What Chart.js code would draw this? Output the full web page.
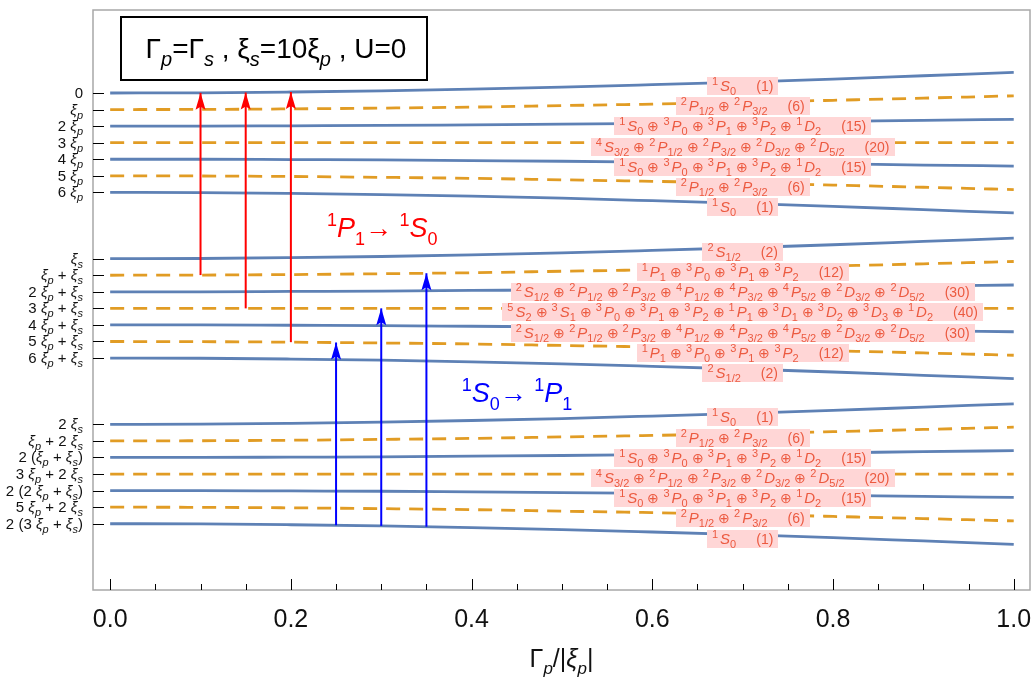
<!DOCTYPE html>
<html>
<head>
<meta charset="utf-8">
<script src="https://cdn.jsdelivr.net/npm/chart.js@4.4.0/dist/chart.umd.min.js"></script>
<style>
  html, body { margin: 0; padding: 0; background: #fff; }
  #wrap { width: 1032px; height: 686px; }
</style>
</head>
<body>
<div id="wrap"><canvas id="levelChart" width="1032" height="686"></canvas></div>
<script>
const gammaPts = [0, 0.1, 0.2, 0.3, 0.4, 0.5, 0.6, 0.7, 0.8, 0.9, 1.0];

// level energies in units of ξp (axis runs downward)
const levelsP = [
  [0, -0.01, -0.06, -0.13, -0.23, -0.35, -0.50, -0.66, -0.84, -1.04, -1.24],
  [1, 0.99, 0.96, 0.91, 0.85, 0.76, 0.67, 0.56, 0.44, 0.31, 0.17],
  [2, 2.00, 1.98, 1.96, 1.92, 1.88, 1.83, 1.78, 1.72, 1.65, 1.59],
  [3, 3, 3, 3, 3, 3, 3, 3, 3, 3, 3],
  [4, 4.00, 4.02, 4.04, 4.08, 4.12, 4.17, 4.22, 4.28, 4.35, 4.41],
  [5, 5.01, 5.04, 5.09, 5.15, 5.24, 5.33, 5.44, 5.56, 5.69, 5.83],
  [6, 6.01, 6.06, 6.13, 6.23, 6.35, 6.50, 6.66, 6.84, 7.04, 7.24]
];
const levelsS = [
  [10, 9.99, 9.94, 9.87, 9.77, 9.65, 9.50, 9.34, 9.16, 8.96, 8.76],
  [11, 10.99, 10.96, 10.91, 10.85, 10.76, 10.67, 10.56, 10.44, 10.31, 10.17],
  [12, 12.00, 11.98, 11.96, 11.92, 11.88, 11.83, 11.78, 11.72, 11.65, 11.59],
  [13, 13, 13, 13, 13, 13, 13, 13, 13, 13, 13],
  [14, 14.00, 14.02, 14.04, 14.08, 14.12, 14.17, 14.22, 14.28, 14.35, 14.41],
  [15, 15.01, 15.04, 15.09, 15.15, 15.24, 15.33, 15.44, 15.56, 15.69, 15.83],
  [16, 16.01, 16.06, 16.13, 16.23, 16.35, 16.50, 16.66, 16.84, 17.04, 17.24]
];
const levels2S = [
  [20, 19.99, 19.94, 19.87, 19.77, 19.65, 19.50, 19.34, 19.16, 18.96, 18.76],
  [21, 20.99, 20.96, 20.91, 20.85, 20.76, 20.67, 20.56, 20.44, 20.31, 20.17],
  [22, 22.00, 21.98, 21.96, 21.92, 21.88, 21.83, 21.78, 21.72, 21.65, 21.59],
  [23, 23, 23, 23, 23, 23, 23, 23, 23, 23, 23],
  [24, 24.00, 24.02, 24.04, 24.08, 24.12, 24.17, 24.22, 24.28, 24.35, 24.41],
  [25, 25.01, 25.04, 25.09, 25.15, 25.24, 25.33, 25.44, 25.56, 25.69, 25.83],
  [26, 26.01, 26.06, 26.13, 26.23, 26.35, 26.50, 26.66, 26.84, 27.04, 27.24]
];

// y ticks (level at Γp = 0) and their labels, "_" = subscript
const yTickVals = [0, 1, 2, 3, 4, 5, 6, 10, 11, 12, 13, 14, 15, 16, 20, 21, 22, 23, 24, 25, 26];
const yTickLabels = [
  '0', 'ξ_p', '2 ξ_p', '3 ξ_p', '4 ξ_p', '5 ξ_p', '6 ξ_p',
  'ξ_s', 'ξ_p + ξ_s', '2 ξ_p + ξ_s', '3 ξ_p + ξ_s', '4 ξ_p + ξ_s', '5 ξ_p + ξ_s', '6 ξ_p + ξ_s',
  '2 ξ_s', 'ξ_p + 2 ξ_s', '2 (ξ_p + ξ_s)', '3 ξ_p + 2 ξ_s', '2 (2 ξ_p + ξ_s)', '5 ξ_p + 2 ξ_s', '2 (3 ξ_p + ξ_s)'
];
const xTickVals = [0, 0.2, 0.4, 0.6, 0.8, 1.0];
const xTickLabels = ['0.0', '0.2', '0.4', '0.6', '0.8', '1.0'];

// multiplets on each level (multiplicity, letter, J) and degeneracy
const termsP = [
  ['1S0'],
  ['2P1/2', '2P3/2'],
  ['1S0', '3P0', '3P1', '3P2', '1D2'],
  ['4S3/2', '2P1/2', '2P3/2', '2D3/2', '2D5/2'],
  ['1S0', '3P0', '3P1', '3P2', '1D2'],
  ['2P1/2', '2P3/2'],
  ['1S0']
];
const degP = [1, 6, 15, 20, 15, 6, 1];
const termsS = [
  ['2S1/2'],
  ['1P1', '3P0', '3P1', '3P2'],
  ['2S1/2', '2P1/2', '2P3/2', '4P1/2', '4P3/2', '4P5/2', '2D3/2', '2D5/2'],
  ['5S2', '3S1', '3P0', '3P1', '3P2', '1P1', '3D1', '3D2', '3D3', '1D2'],
  ['2S1/2', '2P1/2', '2P3/2', '4P1/2', '4P3/2', '4P5/2', '2D3/2', '2D5/2'],
  ['1P1', '3P0', '3P1', '3P2'],
  ['2S1/2']
];
const degS = [2, 12, 30, 40, 30, 12, 2];
const labelGamma = 0.7;

// transition arrows: x, level value at the tail, level value at the head
const redArrowX = [0.10, 0.15, 0.20];
const redArrowFrom = [10.99, 13.0, 15.04];
const redArrowTo = [-0.01, -0.03, -0.06];
const blueArrowX = [0.25, 0.30, 0.35];
const blueArrowFrom = [26.09, 26.13, 26.18];
const blueArrowTo = [15.06, 13.0, 10.88];

const BLUE = '#5e81b5';
const ORANGE = '#e19c24';
const FONT = "'Liberation Sans', Arial, sans-serif";

// ---- small rich text helper (sub/superscripts, italic letters) ----
function richRuns(str, size, scriptSize, italicMain) {
  const runs = [];
  let i = 0;
  while (i < str.length) {
    const ch = str[i];
    if (ch === '_' || ch === '^') {
      i++;
      let txt;
      if (str[i] === '{') {
        const j = str.indexOf('}', i);
        txt = str.slice(i + 1, j);
        i = j + 1;
      } else {
        txt = str[i];
        i++;
      }
      runs.push({ text: txt, size: scriptSize, italic: /[A-Za-z]/.test(txt), dy: ch === '_' ? size * 0.28 : -size * 0.42 });
      continue;
    }
    const letter = /[A-Za-zα-ωΑ-Ω]/.test(ch) && ch !== 'Γ';
    runs.push({ text: ch, size: size, italic: italicMain && letter, dy: 0 });
    i++;
  }
  return runs;
}

function runFont(r) {
  return (r.italic ? 'italic ' : '') + r.size + 'px ' + FONT;
}

function runsWidth(ctx, runs) {
  let w = 0;
  runs.forEach(r => {
    if (r.space) { w += r.space; return; }
    ctx.font = runFont(r);
    w += ctx.measureText(r.text).width;
  });
  return w;
}

function drawRuns(ctx, runs, x, y, align, color) {
  const w = runsWidth(ctx, runs);
  let cx = align === 'right' ? x - w : align === 'center' ? x - w / 2 : x;
  ctx.fillStyle = color;
  ctx.textBaseline = 'alphabetic';
  ctx.textAlign = 'left';
  runs.forEach(r => {
    if (r.space) { cx += r.space; return; }
    ctx.font = runFont(r);
    ctx.fillText(r.text, cx, y + r.dy);
    cx += ctx.measureText(r.text).width;
  });
  return w;
}

function termRuns(code) {
  return [
    { text: code[0], size: 11, italic: false, dy: -6 },
    { space: 2 },
    { text: code[1], size: 15, italic: true, dy: 0 },
    { text: code.slice(2), size: 11, italic: false, dy: 4 }
  ];
}

function multipletRuns(terms, deg) {
  let runs = [];
  terms.forEach((t, k) => {
    if (k > 0) runs.push({ space: 4 }, { text: '⊕', size: 14, italic: false, dy: 0 }, { space: 4 });
    runs = runs.concat(termRuns(t));
  });
  runs.push({ space: 20 }, { text: '(' + deg + ')', size: 14, italic: false, dy: 0 });
  return runs;
}

// ---- datasets ----
const allLevels = [...levelsP, ...levelsS, ...levels2S];
const levelDatasets = allLevels.map((vals, k) => {
  const solid = yTickVals[k] % 2 === 0;
  return {
    data: vals.map((v, i) => ({ x: gammaPts[i], y: v })),
    borderColor: solid ? BLUE : ORANGE,
    borderDash: solid ? [] : [14, 9],
    borderWidth: 2.8,
    pointRadius: 0,
    cubicInterpolationMode: 'monotone',
    order: 2
  };
});

function arrowDatasets(xs, from, to, color) {
  return xs.map((x, i) => ({
    data: [{ x: x, y: from[i] }, { x: x, y: to[i] }],
    borderColor: color,
    borderWidth: 2,
    pointRadius: 0,
    order: 1
  }));
}

const datasets = levelDatasets
  .concat(arrowDatasets(redArrowX, redArrowFrom, redArrowTo, '#ff0000'))
  .concat(arrowDatasets(blueArrowX, blueArrowFrom, blueArrowTo, '#0000ff'));

// ---- decorations ----
const decorPlugin = {
  id: 'decor',
  afterDatasetsDraw(chart) {
    const ctx = chart.ctx;
    const xs = chart.scales.x, ys = chart.scales.y;

    // arrowheads
    const heads = (arrX, arrTo, color) => {
      arrX.forEach((x, i) => {
        const px = xs.getPixelForValue(x), py = ys.getPixelForValue(arrTo[i]);
        ctx.fillStyle = color;
        ctx.beginPath();
        ctx.moveTo(px, py);
        ctx.lineTo(px - 5, py + 17);
        ctx.lineTo(px, py + 14);
        ctx.lineTo(px + 5, py + 17);
        ctx.closePath();
        ctx.fill();
      });
    };
    heads(redArrowX, redArrowTo, '#ff0000');
    heads(blueArrowX, blueArrowTo, '#0000ff');

    // multiplet labels
    const li = gammaPts.indexOf(labelGamma);
    const groups = [[levelsP, termsP, degP], [levelsS, termsS, degS], [levels2S, termsP, degP]];
    const cx = xs.getPixelForValue(labelGamma);
    groups.forEach(([lv, terms, deg]) => {
      lv.forEach((vals, k) => {
        const runs = multipletRuns(terms[k], deg[k]);
        const w = runsWidth(ctx, runs) + 10;
        const cy = ys.getPixelForValue(vals[li]) + 4;
        ctx.fillStyle = '#ffd6d6';
        ctx.fillRect(Math.round(cx - w / 2), Math.round(cy - 9), Math.round(w), 18);
        drawRuns(ctx, runs, cx, cy + 5, 'center', '#ec5a40');
      });
    });
  },
  afterDraw(chart) {
    const ctx = chart.ctx;
    const a = chart.chartArea;
    const xs = chart.scales.x, ys = chart.scales.y;
    ctx.save();

    // frame
    ctx.strokeStyle = '#a8a8a8';
    ctx.lineWidth = 1.5;
    ctx.strokeRect(a.left, a.top, a.right - a.left, a.bottom - a.top);

    // y ticks
    ctx.strokeStyle = '#000';
    ctx.lineWidth = 1;
    yTickVals.forEach((v, i) => {
      const py = Math.round(ys.getPixelForValue(v)) + 0.5;
      ctx.beginPath();
      ctx.moveTo(a.left, py);
      ctx.lineTo(a.left + 11, py);
      ctx.stroke();
      drawRuns(ctx, richRuns(yTickLabels[i], 15, 11, true), a.left - 10, py + 4, 'right', '#111');
    });

    // x ticks (major + minor)
    for (let k = 0; k <= 20; k++) {
      const v = k * 0.05;
      const px = Math.round(xs.getPixelForValue(v)) + 0.5;
      const len = k % 4 === 0 ? 11 : 6;
      ctx.beginPath();
      ctx.moveTo(px, a.bottom);
      ctx.lineTo(px, a.bottom - len);
      ctx.stroke();
    }
    ctx.font = '25px ' + FONT;
    ctx.fillStyle = '#111';
    ctx.textAlign = 'center';
    ctx.textBaseline = 'alphabetic';
    xTickVals.forEach((v, i) => {
      ctx.fillText(xTickLabels[i], xs.getPixelForValue(v), a.bottom + 37);
    });

    // axis title
    drawRuns(ctx, richRuns('Γ_p/|ξ_p|', 25, 17, true), (a.left + a.right) / 2, 667, 'center', '#111');

    // parameter box
    ctx.fillStyle = '#fff';
    ctx.fillRect(121, 17, 306, 63);
    ctx.strokeStyle = '#000';
    ctx.lineWidth = 2;
    ctx.strokeRect(121, 17, 306, 63);
    drawRuns(ctx, richRuns('Γ_p=Γ_s , ξ_s=10ξ_p , U=0', 28, 20, false), 276, 58, 'center', '#000');

    // transition names
    drawRuns(ctx, richRuns('^1P_1→ ^1S_0', 27, 18, true), xs.getPixelForValue(0.24), ys.getPixelForValue(8.69), 'left', '#ff0000');
    drawRuns(ctx, richRuns('^1S_0→ ^1P_1', 27, 18, true), xs.getPixelForValue(0.389), ys.getPixelForValue(18.65), 'left', '#0000ff');

    ctx.restore();
  }
};

new Chart(document.getElementById('levelChart').getContext('2d'), {
  type: 'line',
  data: { datasets: datasets },
  options: {
    responsive: false,
    animation: false,
    layout: { padding: { left: 93, right: 2, top: 10, bottom: 96 } },
    scales: {
      x: { type: 'linear', min: -0.019, max: 1.018, display: false },
      y: { type: 'linear', min: -5.01, max: 30.0, reverse: true, display: false }
    },
    plugins: {
      legend: { display: false },
      tooltip: { enabled: false }
    }
  },
  plugins: [decorPlugin]
});
</script>
</body>
</html>
